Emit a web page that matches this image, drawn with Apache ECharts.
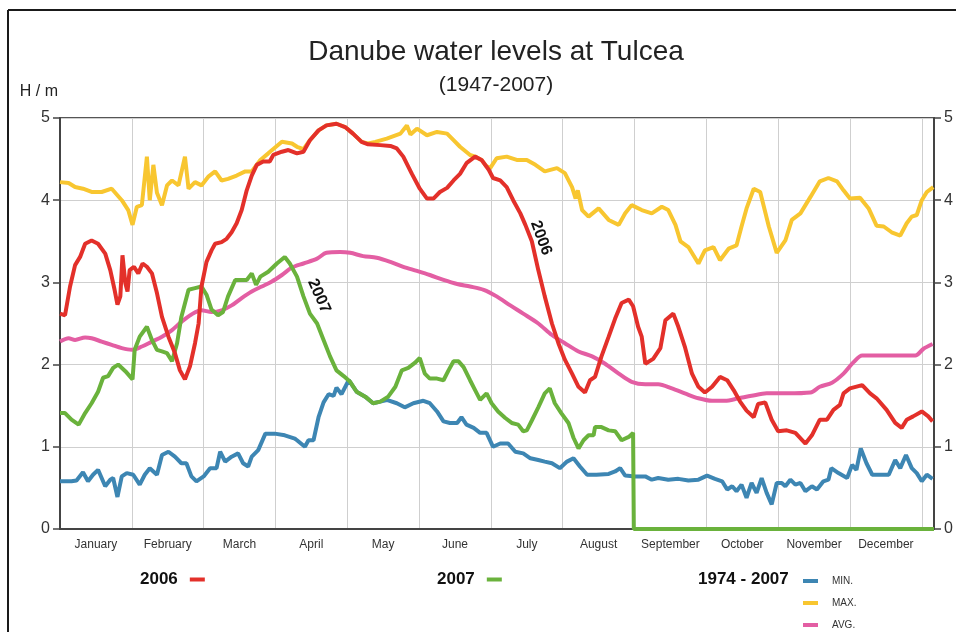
<!DOCTYPE html>
<html>
<head>
<meta charset="utf-8">
<script src="https://cdn.jsdelivr.net/npm/echarts/dist/echarts.min.js"></script>
<style>
  html, body { margin: 0; padding: 0; background: #fff; }
  #chart { width: 956px; height: 632px; }
</style>
</head>
<body>
<div id="chart"></div>
<script>
// x = months since 1 January (0..12), y = water level in metres
const months = ['January', 'February', 'March', 'April', 'May', 'June',
  'July', 'August', 'September', 'October', 'November', 'December'];
const yTicks = [0, 1, 2, 3, 4, 5];

const level2006 = [
  [0,2.62],[0.07,2.60],[0.14,2.95],[0.21,3.21],[0.28,3.31],[0.35,3.47],[0.44,3.51],[0.53,3.47],
  [0.63,3.35],[0.70,3.15],[0.76,2.91],[0.80,2.73],[0.84,2.83],[0.87,3.33],[0.91,2.99],[0.94,2.89],
  [0.97,3.15],[1.03,3.19],[1.09,3.11],[1.15,3.23],[1.21,3.19],[1.28,3.11],[1.35,2.87],[1.42,2.58],
  [1.51,2.34],[1.60,2.14],[1.67,1.93],[1.74,1.82],[1.81,1.98],[1.88,2.26],[1.93,2.50],[1.97,2.95],
  [2.04,3.25],[2.11,3.39],[2.16,3.47],[2.25,3.49],[2.32,3.53],[2.39,3.61],[2.46,3.72],[2.53,3.88],
  [2.60,4.12],[2.67,4.30],[2.74,4.43],[2.83,4.47],[2.92,4.47],[2.97,4.55],[3.09,4.59],[3.18,4.61],
  [3.30,4.57],[3.39,4.59],[3.48,4.73],[3.60,4.85],[3.71,4.91],[3.85,4.93],[3.97,4.89],[4.08,4.81],
  [4.20,4.71],[4.29,4.68],[4.46,4.67],[4.60,4.66],[4.69,4.63],[4.78,4.53],[4.90,4.32],[5.01,4.14],
  [5.11,4.02],[5.20,4.02],[5.29,4.10],[5.39,4.15],[5.48,4.24],[5.57,4.32],[5.66,4.45],[5.78,4.53],
  [5.87,4.49],[5.97,4.37],[6.03,4.27],[6.13,4.24],[6.22,4.16],[6.31,4.00],[6.41,3.84],[6.48,3.70],
  [6.57,3.50],[6.66,3.15],[6.75,2.83],[6.85,2.50],[6.94,2.26],[7.03,2.06],[7.13,1.89],[7.22,1.73],
  [7.31,1.66],[7.38,1.81],[7.45,1.85],[7.54,2.10],[7.64,2.34],[7.73,2.56],[7.82,2.75],[7.92,2.79],
  [7.98,2.71],[8.05,2.46],[8.10,2.34],[8.15,2.01],[8.26,2.07],[8.36,2.20],[8.43,2.54],[8.54,2.62],
  [8.61,2.46],[8.70,2.22],[8.80,1.89],[8.89,1.73],[8.98,1.66],[9.08,1.73],[9.19,1.85],[9.29,1.81],
  [9.38,1.69],[9.47,1.55],[9.56,1.44],[9.66,1.36],[9.72,1.52],[9.82,1.54],[9.91,1.33],[10.0,1.19],
  [10.12,1.20],[10.24,1.17],[10.38,1.04],[10.47,1.14],[10.58,1.33],[10.68,1.33],[10.77,1.45],
  [10.86,1.51],[10.91,1.65],[11.0,1.71],[11.17,1.75],[11.28,1.65],[11.37,1.59],[11.51,1.45],
  [11.63,1.29],[11.72,1.23],[11.79,1.33],[11.88,1.37],[12.0,1.43],[12.09,1.37],[12.15,1.31]
];

const level2007 = [
  [0,1.41],[0.07,1.41],[0.16,1.33],[0.26,1.27],[0.35,1.41],[0.44,1.53],[0.53,1.67],[0.60,1.84],
  [0.67,1.86],[0.74,1.96],[0.81,2.00],[0.91,1.92],[1.01,1.82],[1.04,2.18],[1.11,2.34],[1.21,2.46],
  [1.28,2.30],[1.35,2.18],[1.42,2.16],[1.49,2.14],[1.56,2.04],[1.63,2.26],[1.69,2.58],[1.79,2.91],
  [1.88,2.93],[1.97,2.95],[2.04,2.85],[2.11,2.67],[2.20,2.60],[2.27,2.64],[2.34,2.83],[2.44,3.03],
  [2.53,3.03],[2.60,3.03],[2.67,3.11],[2.73,2.97],[2.79,3.07],[2.90,3.13],[3.02,3.23],[3.13,3.31],
  [3.20,3.23],[3.30,3.07],[3.39,2.83],[3.48,2.62],[3.58,2.50],[3.67,2.30],[3.76,2.10],[3.85,1.93],
  [3.95,1.86],[4.04,1.79],[4.13,1.67],[4.25,1.61],[4.36,1.53],[4.46,1.55],[4.57,1.61],[4.67,1.73],
  [4.76,1.93],[4.85,1.96],[4.94,2.02],[5.01,2.08],[5.08,1.89],[5.15,1.83],[5.25,1.83],[5.34,1.81],
  [5.41,1.93],[5.48,2.04],[5.55,2.04],[5.62,1.97],[5.71,1.81],[5.78,1.69],[5.85,1.57],[5.94,1.65],
  [6.01,1.53],[6.10,1.43],[6.20,1.35],[6.29,1.29],[6.38,1.27],[6.45,1.19],[6.50,1.20],[6.57,1.32],
  [6.66,1.48],[6.75,1.65],[6.82,1.71],[6.89,1.53],[6.98,1.41],[7.08,1.29],[7.15,1.11],[7.22,0.98],
  [7.29,1.08],[7.36,1.14],[7.43,1.14],[7.45,1.24],[7.54,1.24],[7.64,1.20],[7.73,1.19],[7.82,1.08],
  [7.92,1.12],[7.98,1.17],[7.99,0],[12.17,0]
];

const levelMin = [
  [0,0.58],[0.16,0.58],[0.23,0.59],[0.32,0.69],[0.39,0.58],[0.46,0.66],[0.53,0.72],[0.63,0.52],
  [0.70,0.60],[0.74,0.62],[0.80,0.39],[0.86,0.64],[0.93,0.68],[1.02,0.66],[1.11,0.54],[1.18,0.66],
  [1.25,0.74],[1.35,0.66],[1.42,0.90],[1.51,0.94],[1.60,0.88],[1.69,0.80],[1.76,0.80],[1.83,0.64],
  [1.90,0.58],[2.00,0.64],[2.09,0.74],[2.18,0.74],[2.23,0.94],[2.30,0.82],[2.39,0.88],[2.48,0.92],
  [2.55,0.80],[2.62,0.76],[2.67,0.88],[2.76,0.96],[2.86,1.16],[2.99,1.16],[3.13,1.14],[3.27,1.10],
  [3.30,1.08],[3.41,1.00],[3.46,1.08],[3.53,1.08],[3.60,1.36],[3.67,1.54],[3.74,1.64],[3.81,1.62],
  [3.85,1.72],[3.92,1.64],[4.02,1.81],[4.04,1.79],[4.13,1.67],[4.25,1.61],[4.36,1.53],[4.46,1.55],
  [4.55,1.57],[4.69,1.53],[4.80,1.48],[4.92,1.53],[5.06,1.56],[5.15,1.53],[5.25,1.43],[5.34,1.31],
  [5.43,1.29],[5.53,1.29],[5.59,1.36],[5.66,1.27],[5.76,1.23],[5.85,1.17],[5.94,1.17],[6.03,1.00],
  [6.13,1.04],[6.24,1.04],[6.34,0.94],[6.45,0.92],[6.55,0.86],[6.66,0.84],[6.75,0.82],[6.85,0.80],
  [6.96,0.74],[7.06,0.82],[7.15,0.86],[7.24,0.76],[7.34,0.66],[7.47,0.66],[7.64,0.67],[7.73,0.70],
  [7.80,0.74],[7.87,0.65],[8.01,0.64],[8.15,0.64],[8.24,0.60],[8.33,0.62],[8.47,0.60],[8.61,0.61],
  [8.75,0.59],[8.89,0.60],[9.01,0.65],[9.12,0.61],[9.22,0.58],[9.29,0.48],[9.36,0.52],[9.42,0.46],
  [9.49,0.54],[9.56,0.38],[9.63,0.56],[9.70,0.44],[9.77,0.62],[9.84,0.44],[9.91,0.30],[9.98,0.56],
  [10.05,0.56],[10.10,0.52],[10.17,0.60],[10.24,0.54],[10.31,0.56],[10.38,0.46],[10.47,0.52],
  [10.54,0.48],[10.63,0.58],[10.70,0.60],[10.74,0.74],[10.84,0.68],[10.96,0.62],[11.03,0.78],
  [11.09,0.72],[11.15,0.98],[11.23,0.80],[11.31,0.66],[11.42,0.66],[11.54,0.66],[11.63,0.84],
  [11.70,0.74],[11.78,0.90],[11.86,0.74],[11.93,0.68],[12.0,0.58],[12.07,0.66],[12.15,0.61]
];

const levelMax = [
  [0,4.22],[0.12,4.21],[0.21,4.16],[0.32,4.14],[0.44,4.10],[0.58,4.10],[0.72,4.14],[0.86,4.00],
  [0.95,3.88],[1.01,3.70],[1.07,3.92],[1.14,3.94],[1.21,4.53],[1.25,4.00],[1.30,4.43],[1.35,4.09],
  [1.42,3.94],[1.49,4.18],[1.56,4.24],[1.65,4.18],[1.74,4.53],[1.79,4.14],[1.88,4.22],[1.97,4.18],
  [2.07,4.29],[2.16,4.35],[2.25,4.24],[2.34,4.26],[2.46,4.30],[2.58,4.35],[2.67,4.35],[2.79,4.49],
  [2.90,4.57],[3.09,4.71],[3.23,4.69],[3.30,4.65],[3.39,4.62],[3.48,4.73],[3.60,4.85],[3.71,4.91],
  [3.85,4.93],[3.97,4.89],[4.08,4.81],[4.20,4.71],[4.29,4.69],[4.39,4.71],[4.55,4.75],[4.74,4.81],
  [4.83,4.91],[4.88,4.80],[4.97,4.87],[5.11,4.79],[5.25,4.83],[5.39,4.81],[5.48,4.73],[5.57,4.65],
  [5.71,4.55],[5.78,4.53],[5.87,4.49],[5.93,4.42],[5.99,4.39],[6.08,4.51],[6.22,4.53],[6.36,4.49],
  [6.50,4.49],[6.62,4.43],[6.75,4.35],[6.92,4.39],[7.03,4.33],[7.13,4.16],[7.18,4.02],[7.21,4.12],
  [7.27,3.88],[7.36,3.80],[7.50,3.90],[7.64,3.76],[7.78,3.70],[7.87,3.84],[7.96,3.94],[8.10,3.88],
  [8.24,3.84],[8.38,3.92],[8.47,3.88],[8.57,3.70],[8.64,3.50],[8.75,3.43],[8.89,3.23],[8.98,3.39],
  [9.10,3.43],[9.19,3.27],[9.31,3.41],[9.42,3.45],[9.49,3.68],[9.56,3.90],[9.66,4.14],[9.75,4.10],
  [9.87,3.68],[9.98,3.36],[10.10,3.51],[10.19,3.76],[10.31,3.84],[10.45,4.04],[10.58,4.23],
  [10.70,4.27],[10.82,4.23],[10.91,4.12],[11.0,4.02],[11.14,4.03],[11.26,3.90],[11.37,3.69],
  [11.47,3.68],[11.58,3.61],[11.70,3.57],[11.79,3.72],[11.86,3.80],[11.93,3.82],[12.0,4.00],
  [12.07,4.10],[12.16,4.16]
];

const levelAvg = [
  [0,2.28],[0.12,2.32],[0.21,2.30],[0.35,2.33],[0.44,2.32],[0.58,2.28],[0.72,2.24],[0.86,2.20],
  [1.00,2.18],[1.14,2.22],[1.28,2.28],[1.42,2.34],[1.56,2.42],[1.69,2.52],[1.83,2.61],[1.97,2.66],
  [2.11,2.64],[2.25,2.66],[2.39,2.72],[2.53,2.81],[2.67,2.89],[2.81,2.95],[2.95,3.01],[3.09,3.09],
  [3.23,3.18],[3.39,3.23],[3.58,3.29],[3.71,3.36],[3.90,3.37],[4.04,3.36],[4.22,3.32],[4.41,3.30],
  [4.60,3.25],[4.78,3.19],[4.97,3.14],[5.15,3.09],[5.34,3.03],[5.53,2.98],[5.71,2.95],[5.90,2.91],
  [6.08,2.83],[6.27,2.72],[6.45,2.62],[6.66,2.50],[6.85,2.36],[7.03,2.26],[7.22,2.16],[7.41,2.10],
  [7.59,2.01],[7.78,1.89],[7.96,1.79],[8.15,1.76],[8.33,1.76],[8.52,1.71],[8.70,1.65],[8.89,1.59],
  [9.08,1.56],[9.26,1.56],[9.45,1.59],[9.63,1.62],[9.84,1.65],[10.12,1.65],[10.45,1.66],
  [10.58,1.73],[10.75,1.78],[10.91,1.89],[11.05,2.03],[11.17,2.11],[11.42,2.11],[11.70,2.11],
  [11.91,2.11],[12.02,2.19],[12.15,2.25]
];

const FONT = "'Liberation Sans', Arial, sans-serif";
const AXIS = '#444';
const GRID = '#cfcfcf';

const chart = echarts.init(document.getElementById('chart'));

const yAxisBase = {
  type: 'value',
  min: yTicks[0],
  max: yTicks[yTicks.length - 1],
  interval: 1,
  axisLine: { show: true, lineStyle: { color: AXIS, width: 2 } },
  axisTick: { show: true, length: 7, lineStyle: { color: AXIS, width: 1.5 } },
  axisLabel: { color: '#333', fontSize: 16, fontFamily: FONT, margin: 10 }
};

const lineSeries = (name, data, color, extra) => Object.assign({
  name: name,
  type: 'line',
  data: data,
  showSymbol: false,
  symbol: 'none',
  lineStyle: { color: color, width: 4 },
  itemStyle: { color: color },
  emphasis: { disabled: true },
  animation: false
}, extra || {});

// one legend box per entry, so the layout mirrors the original
const legendItem = (name, left, top, bold) => ({
  data: [name],
  left: left,
  top: top,
  padding: 0,
  align: bold ? 'right' : 'left',
  icon: 'rect',
  itemWidth: 15,
  itemHeight: 4,
  selectedMode: false,
  textStyle: bold
    ? { fontSize: 17, fontWeight: 'bold', color: '#111', fontFamily: FONT, padding: [0, 7, 0, 0] }
    : { fontSize: 10, color: '#333', fontFamily: FONT, padding: [0, 0, 0, 9] }
});

chart.setOption({
  backgroundColor: '#fff',
  animation: false,
  textStyle: { fontFamily: FONT },
  title: {
    text: 'Danube water levels at Tulcea',
    subtext: '(1947-2007)',
    left: 491,
    top: 33,
    textAlign: 'center',
    itemGap: 9,
    textStyle: { fontSize: 28, fontWeight: 'normal', color: '#222', fontFamily: FONT },
    subtextStyle: { fontSize: 21, color: '#222', fontFamily: FONT }
  },
  grid: {
    left: 60,
    right: 22,
    top: 118,
    bottom: 103,
    show: true,
    borderColor: '#555',
    borderWidth: 2,
    containLabel: false
  },
  xAxis: {
    type: 'value',
    min: 0,
    max: 12.17,
    interval: 1,
    axisLine: { show: true, onZero: false, lineStyle: { color: AXIS, width: 2 } },
    axisTick: { show: false },
    splitLine: { show: true, lineStyle: { color: GRID, width: 1 } },
    axisLabel: {
      customValues: months.map((m, i) => i + 0.5),
      formatter: (v) => months[Math.floor(v)] || '',
      color: '#333',
      fontSize: 12,
      fontFamily: FONT,
      margin: 10
    }
  },
  yAxis: [
    Object.assign({}, yAxisBase, {
      position: 'left',
      name: 'H / m',
      nameLocation: 'end',
      nameGap: 18,
      nameTextStyle: { color: '#222', fontSize: 16, fontFamily: FONT, align: 'right', padding: [0, 2, 0, 0] },
      splitLine: { show: true, lineStyle: { color: GRID, width: 1 } }
    }),
    Object.assign({}, yAxisBase, {
      position: 'right',
      splitLine: { show: false }
    })
  ],
  legend: [
    legendItem('2006', 140, 571, true),
    legendItem('2007', 437, 571, true),
    legendItem('MIN.', 803, 576, false),
    legendItem('MAX.', 803, 598, false),
    legendItem('AVG.', 803, 620, false)
  ],
  graphic: [
    { type: 'line', shape: { x1: 8, y1: 10, x2: 956, y2: 10 }, style: { stroke: '#1a1a1a', lineWidth: 2 } },
    { type: 'line', shape: { x1: 8, y1: 10, x2: 8, y2: 632 }, style: { stroke: '#1a1a1a', lineWidth: 2 } },
    {
      type: 'text', left: 698, top: 571,
      style: { text: '1974 - 2007', font: "bold 17px 'Liberation Sans', Arial, sans-serif", fill: '#111' }
    },
    {
      type: 'text', x: 541, y: 238, rotation: -70 * Math.PI / 180, z: 100,
      style: { text: '2006', font: "bold 16px 'Liberation Sans', Arial, sans-serif", fill: '#111',
        textAlign: 'center', textVerticalAlign: 'middle' }
    },
    {
      type: 'text', x: 319, y: 296, rotation: -66 * Math.PI / 180, z: 100,
      style: { text: '2007', font: "bold 16px 'Liberation Sans', Arial, sans-serif", fill: '#111',
        textAlign: 'center', textVerticalAlign: 'middle' }
    }
  ],
  series: [
    lineSeries('MAX.', levelMax, '#f8c630'),
    lineSeries('AVG.', levelAvg, '#e35ea3', { smooth: 0.3 }),
    lineSeries('MIN.', levelMin, '#3d86b3'),
    lineSeries('2007', level2007, '#6ab23c', { clip: false }),
    lineSeries('2006', level2006, '#e3302a')
  ]
});
</script>
</body>
</html>
